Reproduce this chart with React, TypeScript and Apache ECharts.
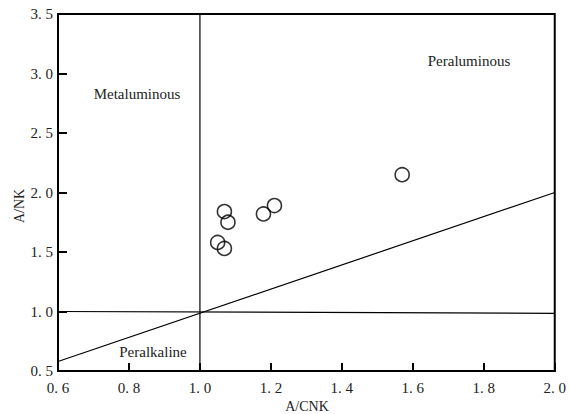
import React, { useEffect, useRef } from "react";
import * as echarts from "echarts";

const samplePoints: [number, number][] = [
  [1.57, 2.15],
  [1.069, 1.84],
  [1.079, 1.75],
  [1.179, 1.82],
  [1.21, 1.89],
  [1.05, 1.58],
  [1.069, 1.53],
];
const horizontalLine: [number, number][] = [[0.6, 1.0], [2.0, 0.985]];
const verticalLine: [number, number][] = [[1.0, 0.5], [1.0, 3.5]];
const diagonalLine: [number, number][] = [[0.6, 0.58], [2.0, 2.0]];
const fieldLabels = ["Metaluminous", "Peraluminous", "Peralkaline"];
const axisNames = ["A/CNK", "A/NK"];

const FONT = "Times New Roman";

export default function App() {
  const ref = useRef<HTMLDivElement>(null);
  useEffect(() => {
    document.body.style.margin = "0";
    document.body.style.overflow = "hidden";
    if (!ref.current) return;
    const chart = echarts.init(ref.current, undefined, { renderer: "svg" });
    const fmt = (v: number) => v.toFixed(1).replace(".", ". ");
    const lineSeries = (data: [number, number][]) => ({
      type: "line",
      data,
      symbol: "none",
      lineStyle: { color: "#000", width: 1.2 },
      silent: true,
      z: 2,
    });
    const txt = (text: string, x: number, y: number, size: number, rotation = 0) => ({
      type: "text",
      x,
      y,
      rotation,
      style: { text, fontFamily: FONT, fontSize: size, fill: "#222", textAlign: "center", textVerticalAlign: "middle" },
    });
    chart.setOption({
      animation: false,
      backgroundColor: "#fff",
      textStyle: { fontFamily: FONT },
      grid: {
        left: 58,
        right: 10,
        top: 14,
        bottom: 43,
        show: true,
        borderColor: "#000",
        borderWidth: 2,
      },
      xAxis: {
        type: "value",
        min: 0.6,
        max: 2.0,
        interval: 0.2,
        axisLine: { show: true, lineStyle: { color: "#000", width: 2 } },
        axisTick: { show: true, inside: true, length: 8, lineStyle: { color: "#000", width: 2 } },
        axisLabel: { formatter: fmt, fontFamily: FONT, fontSize: 15, color: "#222", margin: 9 },
        splitLine: { show: false },
      },
      yAxis: {
        type: "value",
        min: 0.5,
        max: 3.5,
        interval: 0.5,
        axisLine: { show: true, lineStyle: { color: "#000", width: 2 } },
        axisTick: { show: true, inside: true, length: 9, lineStyle: { color: "#000", width: 2 } },
        axisLabel: { formatter: fmt, fontFamily: FONT, fontSize: 15, color: "#222", margin: 5 },
        splitLine: { show: false },
      },
      graphic: [
        txt(fieldLabels[0], 137, 94, 15),
        txt(fieldLabels[1], 469, 61, 15),
        txt(fieldLabels[2], 153, 352, 15),
        txt(axisNames[0], 307, 406, 14),
        txt(axisNames[1], 19, 206, 14, Math.PI / 2),
      ],
      series: [
        lineSeries(horizontalLine),
        lineSeries(verticalLine),
        lineSeries(diagonalLine),
        {
          type: "scatter",
          data: samplePoints,
          symbol: "circle",
          symbolSize: 14,
          itemStyle: { color: "transparent", borderColor: "#000", borderWidth: 1.6 },
          z: 3,
        },
      ],
    });
    return () => chart.dispose();
  }, []);
  return <div ref={ref} style={{ width: 569, height: 414 }} />;
}
